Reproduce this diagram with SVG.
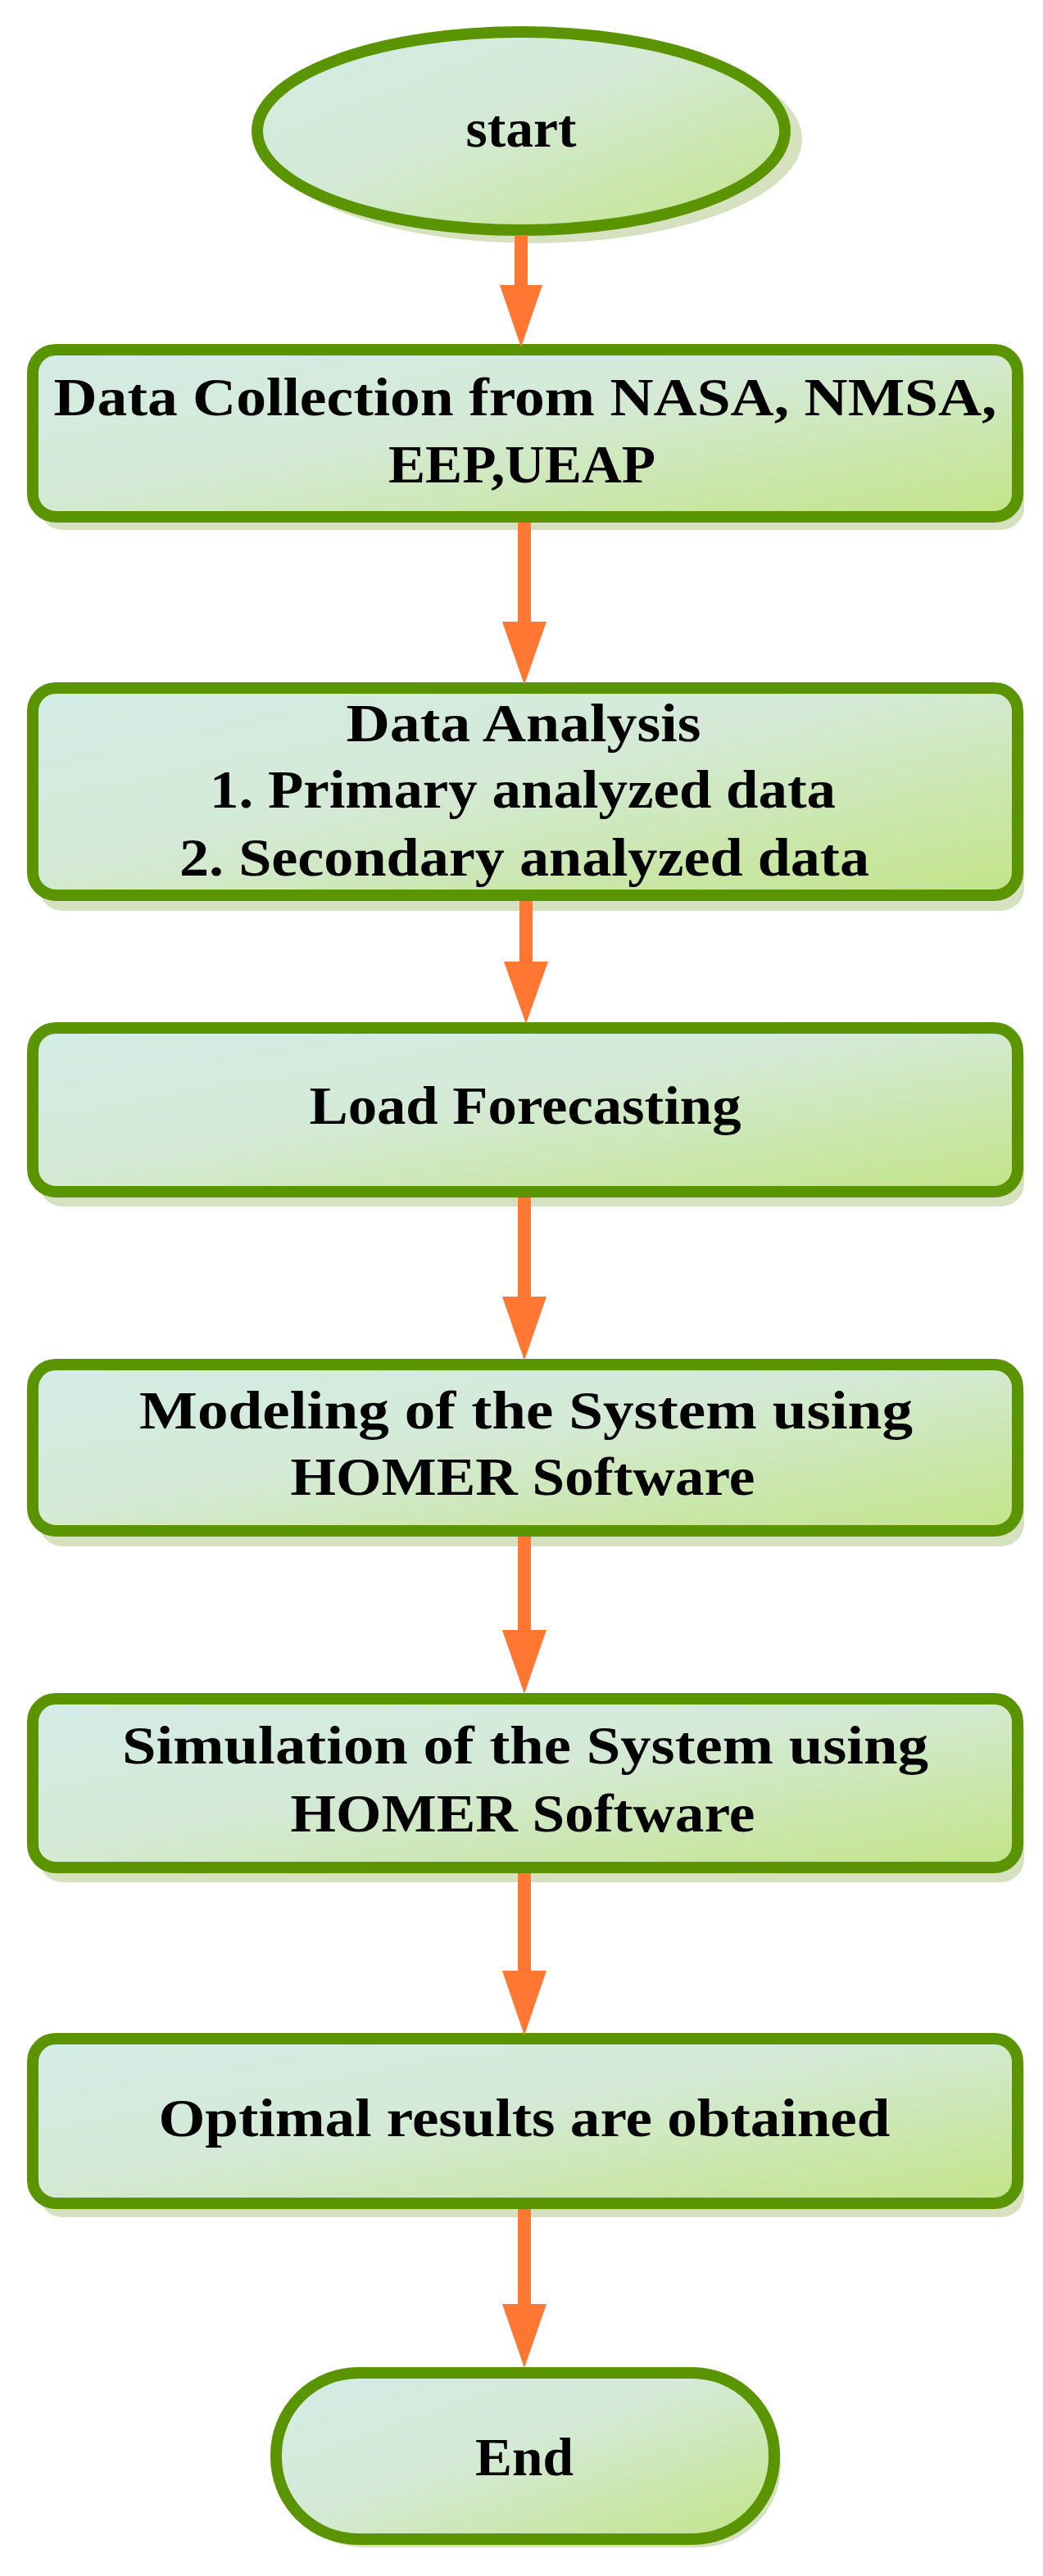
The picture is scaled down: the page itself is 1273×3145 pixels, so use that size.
<svg xmlns="http://www.w3.org/2000/svg" width="1273" height="3145" viewBox="0 0 1273 3145">
<defs>
<linearGradient id="g" x1="0" y1="0" x2="1" y2="1">
<stop offset="0" stop-color="#d3ece6"/><stop offset="0.45" stop-color="#d4ead6"/><stop offset="1" stop-color="#c2e487"/>
</linearGradient>
</defs>
<style>
.n{fill:url(#g);stroke:#5a9400;stroke-width:14}
.s{fill:#d6e1bf}
.t{font-family:"Liberation Serif","Times New Roman",serif;font-weight:bold;font-size:66px;fill:#000;text-anchor:middle}
.c line{stroke:#ff7733;stroke-width:16}
.c polygon{fill:#ff7733}
</style>
<g id="start">
<ellipse class="s" cx="651" cy="170" rx="328" ry="127"/>
<ellipse class="n" cx="636" cy="160" rx="322" ry="121"/>
<text class="t" x="636" y="179" textLength="135" lengthAdjust="spacingAndGlyphs">start</text>
</g>
<g id="n1">
<rect class="s" x="48" y="437" width="1202" height="210" rx="28"/>
<rect class="n" x="40" y="427" width="1202" height="204" rx="28"/>
<text class="t" x="641" y="507" textLength="1151" lengthAdjust="spacingAndGlyphs">Data Collection from NASA, NMSA,</text>
<text class="t" x="637" y="589" textLength="326" lengthAdjust="spacingAndGlyphs">EEP,UEAP</text>
</g>
<g id="n2">
<rect class="s" x="48" y="850" width="1202" height="262" rx="28"/>
<rect class="n" x="40" y="840" width="1202" height="253" rx="28"/>
<text class="t" x="639" y="905" textLength="433" lengthAdjust="spacingAndGlyphs">Data Analysis</text>
<text class="t" x="638" y="986" textLength="764" lengthAdjust="spacingAndGlyphs">1. Primary analyzed data</text>
<text class="t" x="640" y="1069" textLength="842" lengthAdjust="spacingAndGlyphs">2. Secondary analyzed data</text>
</g>
<g id="n3">
<rect class="s" x="48" y="1265" width="1202" height="208" rx="28"/>
<rect class="n" x="40" y="1255" width="1202" height="200" rx="28"/>
<text class="t" x="641" y="1372" textLength="527" lengthAdjust="spacingAndGlyphs">Load Forecasting</text>
</g>
<g id="n4">
<rect class="s" x="48" y="1676" width="1202" height="212" rx="28"/>
<rect class="n" x="40" y="1666" width="1202" height="203" rx="28"/>
<text class="t" x="642" y="1744" textLength="944" lengthAdjust="spacingAndGlyphs">Modeling of the System using</text>
<text class="t" x="638" y="1825" textLength="567" lengthAdjust="spacingAndGlyphs">HOMER Software</text>
</g>
<g id="n5">
<rect class="s" x="48" y="2084" width="1202" height="214" rx="28"/>
<rect class="n" x="40" y="2074" width="1202" height="206" rx="28"/>
<text class="t" x="641" y="2153" textLength="984" lengthAdjust="spacingAndGlyphs">Simulation of the System using</text>
<text class="t" x="638" y="2236" textLength="567" lengthAdjust="spacingAndGlyphs">HOMER Software</text>
</g>
<g id="n6">
<rect class="s" x="48" y="2499" width="1202" height="208" rx="28"/>
<rect class="n" x="40" y="2489" width="1202" height="201" rx="28"/>
<text class="t" x="640" y="2608" textLength="893" lengthAdjust="spacingAndGlyphs">Optimal results are obtained</text>
</g>
<g id="end">
<rect class="s" x="345" y="2907" width="608" height="203" rx="100"/>
<rect class="n" x="337" y="2897" width="608" height="203" rx="100"/>
<text class="t" x="640" y="3022" textLength="120" lengthAdjust="spacingAndGlyphs">End</text>
</g>
<g class="c" id="connectors">
<line x1="636" y1="287" x2="636" y2="350"/><polygon points="610,348 662,348 636,424"/>
<line x1="640" y1="638" x2="640" y2="762"/><polygon points="613,759 667,759 640,836"/>
<line x1="642" y1="1100" x2="642" y2="1176"/><polygon points="615,1174 669,1174 642,1250"/>
<line x1="640" y1="1462" x2="640" y2="1585"/><polygon points="613,1583 667,1583 640,1661"/>
<line x1="640" y1="1876" x2="640" y2="1992"/><polygon points="613,1990 667,1990 640,2068"/>
<line x1="640" y1="2287" x2="640" y2="2408"/><polygon points="613,2406 667,2406 640,2485"/>
<line x1="640" y1="2697" x2="640" y2="2815"/><polygon points="613,2813 667,2813 640,2891"/>
</g>
</svg>
